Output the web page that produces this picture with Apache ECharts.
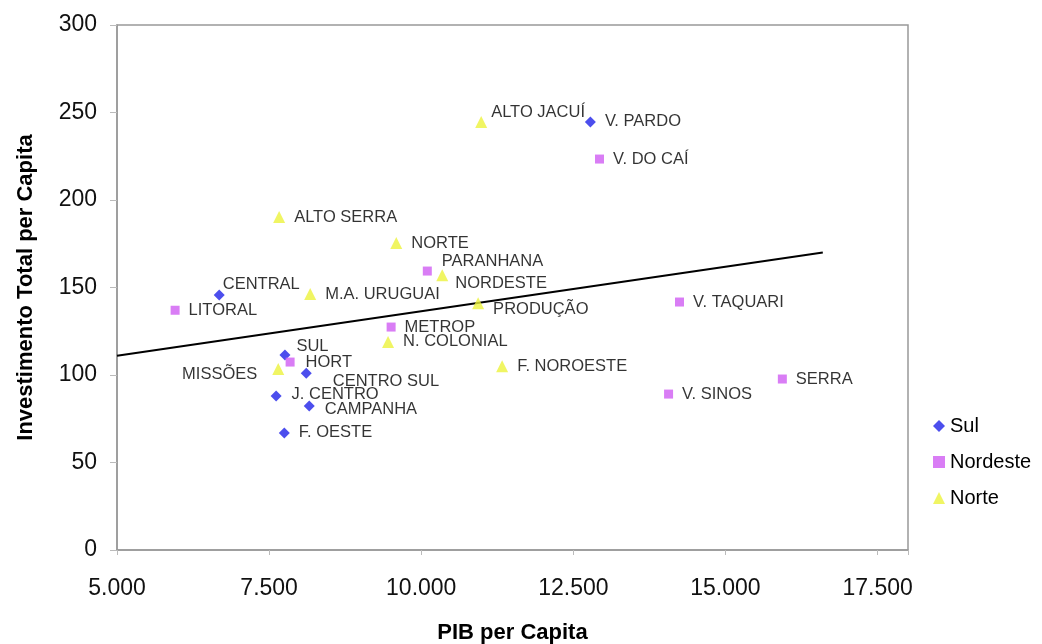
<!DOCTYPE html>
<html>
<head>
<meta charset="utf-8">
<script src="https://cdn.jsdelivr.net/npm/echarts@6/dist/echarts.min.js"></script>
<style>
html,body{margin:0;padding:0;background:#fff;}
#c{width:1042px;height:644px;}
</style>
</head>
<body>
<div id="c"></div>
<script>
// ---- data ----
var sulNames = ['CENTRAL','V. PARDO','SUL','CENTRO SUL','J. CENTRO','CAMPANHA','F. OESTE'];
var sulX = [6680, 12780, 7760, 8110, 7615, 8160, 7750];
var sulY = [145.7, 244.6, 111.4, 101, 88, 82.3, 66.9];

var nordesteNames = ['LITORAL','V. DO CAÍ','PARANHANA','METROP','HORT','V. TAQUARI','V. SINOS','SERRA'];
var nordesteX = [5955, 12930, 10100, 9505, 7845, 14245, 14065, 15935];
var nordesteY = [137, 223.4, 159.4, 127.4, 107.4, 141.7, 89.1, 97.7];

var norteNames = ['ALTO JACUÍ','ALTO SERRA','NORTE','NORDESTE','M.A. URUGUAI','PRODUÇÃO','N. COLONIAL','MISSÕES','F. NOROESTE'];
var norteX = [10985, 7665, 9590, 10345, 8175, 10935, 9455, 7650, 11330];
var norteY = [244.6, 190.3, 175.4, 157, 146.3, 141, 118.9, 103.4, 105];

var trendX = [5000, 16600];
var trendY = [111, 170];

var seriesNames = ['Sul','Nordeste','Norte'];
var xTicks = [5000, 7500, 10000, 12500, 15000, 17500];
var yTicks = [0, 50, 100, 150, 200, 250, 300];

// ---- label layout (styling only) ----
var labelTweaks = {
  'CENTRAL': {offset:[-11,-11]},
  'PARANHANA': {offset:[1,-10]},
  'NORDESTE': {offset:[-2,8]},
  'PRODUÇÃO': {offset:[0,6]},
  'SUL': {offset:[-3,-9]},
  'HORT': {offset:[2,0]},
  'MISSÕES': {position:'left', offset:[-6,5]},
  'CENTRO SUL': {offset:[12,8]},
  'J. CENTRO': {offset:[1,-2]},
  'CAMPANHA': {offset:[1,3]},
  'ALTO JACUÍ': {offset:[-5,-9]}
};

function fmtThousands(v){
  return String(v).replace(/\B(?=(\d{3})+(?!\d))/g, '.');
}

var font = 'Liberation Sans, Arial, sans-serif';
var labelCommon = {
  show: true,
  formatter: '{b}',
  distance: 9,
  fontFamily: font,
  fontSize: 16.5,
  color: '#000'
};

function buildData(names, xs, ys){
  return names.map(function(n, i){
    var t = labelTweaks[n] || {};
    return {
      name: n,
      value: [xs[i], ys[i]],
      label: {
        position: t.position || 'right',
        offset: t.offset || [0,0]
      }
    };
  });
}

var chart = echarts.init(document.getElementById('c'), null, {renderer:'canvas'});

chart.setOption({
  animation: false,
  backgroundColor: '#ffffff',
  textStyle: {fontFamily: font},
  grid: {
    left: 117, top: 25, right: 134, bottom: 94,
    containLabel: false,
    outerBoundsMode: 'none',
    show: true, borderColor: '#999', borderWidth: 1.5, backgroundColor: '#fff'
  },
  legend: {
    data: seriesNames,
    orient: 'vertical',
    left: 928, top: 411,
    itemWidth: 12, itemHeight: 12,
    itemGap: 16,
    textStyle: {fontFamily: font, fontSize: 20, color: '#000'}
  },
  xAxis: {
    type: 'value',
    min: 5000, max: 18000, interval: 2500,
    name: 'PIB per Capita',
    nameLocation: 'middle',
    nameGap: 72,
    nameTextStyle: {fontFamily: font, fontSize: 22, fontWeight: 'bold', color: '#000'},
    splitLine: {show: false},
    axisLine: {show: true, lineStyle: {color: '#999', width: 1.5}},
    axisTick: {show: true, length: 5, lineStyle: {color: '#bbb'}},
    axisLabel: {
      fontFamily: font, fontSize: 23, color: '#111', margin: 27,
      formatter: function(v){ return xTicks.indexOf(v) >= 0 ? fmtThousands(v) : ''; }
    }
  },
  yAxis: {
    type: 'value',
    min: 0, max: 300, interval: 50,
    name: 'Investimento Total per Capita',
    nameLocation: 'middle',
    nameGap: 80,
    nameTextStyle: {fontFamily: font, fontSize: 22, fontWeight: 'bold', color: '#000'},
    splitLine: {show: false},
    axisLine: {show: true, lineStyle: {color: '#999', width: 1.5}},
    axisTick: {show: true, length: 7, lineStyle: {color: '#bbb'}},
    axisLabel: {
      fontFamily: font, fontSize: 23, color: '#111', margin: 20,
      formatter: function(v){ return yTicks.indexOf(v) >= 0 ? String(v) : ''; }
    }
  },
  series: [
    {
      name: 'trend', type: 'line', silent: true, z: 1,
      data: trendX.map(function(x, i){ return [x, trendY[i]]; }),
      symbol: 'none',
      lineStyle: {color: '#000', width: 2.2}
    },
    {
      name: 'Sul', type: 'scatter', z: 3,
      symbol: 'diamond', symbolSize: 11,
      itemStyle: {color: '#1f22e8'},
      label: labelCommon,
      data: buildData(sulNames, sulX, sulY)
    },
    {
      name: 'Nordeste', type: 'scatter', z: 3,
      symbol: 'rect', symbolSize: 9,
      itemStyle: {color: '#cf5cf2'},
      label: labelCommon,
      data: buildData(nordesteNames, nordesteX, nordesteY)
    },
    {
      name: 'Norte', type: 'scatter', z: 3,
      symbol: 'triangle', symbolSize: 12,
      itemStyle: {color: '#ecf23c'},
      label: labelCommon,
      data: buildData(norteNames, norteX, norteY)
    }
  ]
});
</script>
</body>
</html>
